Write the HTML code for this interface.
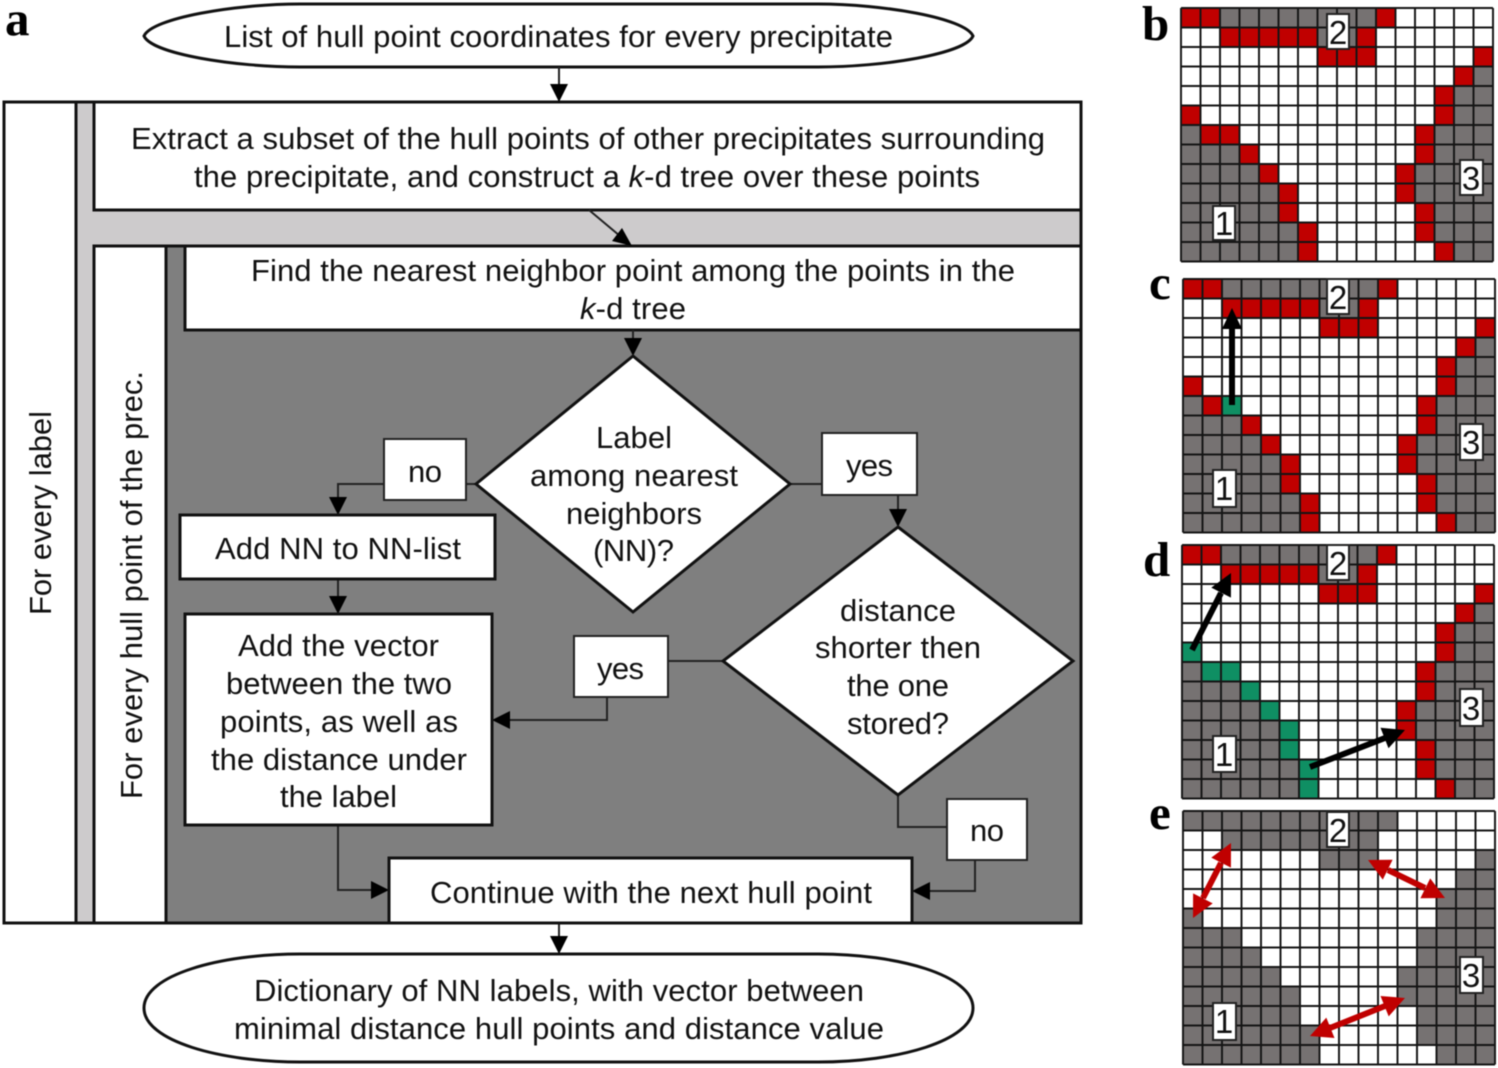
<!DOCTYPE html>
<html><head><meta charset="utf-8"><style>
html,body{margin:0;padding:0;background:#fff}
svg{display:block;filter:blur(0.4px)}
.t{font-family:"Liberation Sans",Arial,sans-serif;font-size:31px;fill:#111;text-anchor:start}
.l{font-family:"Liberation Serif",serif;font-weight:bold;font-size:49px;fill:#000}
.n{font-family:"Liberation Sans",Arial,sans-serif;font-size:33px;fill:#111;text-anchor:middle}
.b{fill:#fff;stroke:#111;stroke-width:3}
.s{fill:#fff;stroke:#222;stroke-width:2}
.c{fill:none;stroke:#222;stroke-width:2}
.lb{fill:#fff;stroke:#222;stroke-width:2}
</style></head><body>
<svg width="1498" height="1068" viewBox="0 0 1498 1068" xmlns="http://www.w3.org/2000/svg">
<defs>
<path id="gray" d="M2 0h8v1h-8zM7 1h2v1h-2zM15 3h1v1h-1zM14 4h2v2h-2zM0 6h1v1h-1zM13 6h3v2h-3zM0 7h3v1h-3zM0 8h4v1h-4zM12 8h4v2h-4zM0 9h5v2h-5zM13 10h3v2h-3zM0 11h6v2h-6zM14 12h2v1h-2z"/>
<path id="h1" d="M0 5h1v1h-1zM1 6h2v1h-2zM3 7h1v1h-1zM4 8h1v1h-1zM5 9h1v2h-1zM6 11h1v2h-1z"/>
<path id="h2" d="M0 0h2v1h-2zM10 0h1v1h-1zM2 1h5v1h-5zM9 1h1v1h-1zM7 2h3v1h-3zM15 2h1v1h-1zM14 3h1v1h-1zM13 4h1v2h-1zM12 6h1v2h-1zM11 8h1v2h-1zM12 10h1v2h-1zM13 12h1v1h-1z"/>
<path id="gl" fill="none" stroke="#151515" stroke-width=".1" d="M0 0V13M1 0V13M2 0V13M3 0V13M4 0V13M5 0V13M6 0V13M7 0V13M8 0V13M9 0V13M10 0V13M11 0V13M12 0V13M13 0V13M14 0V13M15 0V13M16 0V13M0 0H16M0 1H16M0 2H16M0 3H16M0 4H16M0 5H16M0 6H16M0 7H16M0 8H16M0 9H16M0 10H16M0 11H16M0 12H16M0 13H16"/>
</defs>

<!-- frame -->
<rect x="4" y="102" width="1077" height="821" fill="#cdcbcc" stroke="#111" stroke-width="3"/>
<rect x="4" y="102" width="72" height="821" class="b"/>
<rect x="94" y="102" width="987" height="108" class="b"/>
<rect x="94" y="246" width="987" height="677" fill="#7f7f7f" stroke="#111" stroke-width="3"/>
<rect x="94" y="246" width="72" height="677" class="b"/>
<rect x="185" y="246" width="896" height="84" class="b"/>

<!-- terminators -->
<path class="b" d="M144 36C152 18 235 4 300 4H818C883 4 965 18 973 36C965 54 883 67 818 67H300C235 67 152 54 144 36Z"/>
<path class="b" d="M144 1008C144 975 220 954 300 954H818C898 954 973 975 973 1008C973 1041 898 1062 818 1062H300C220 1062 144 1041 144 1008Z"/>

<!-- connectors -->
<path class="c" d="M559 67V90M589 210L620 236M633 330V345M476 484H466M384 484H338V500M338 579V600M790 484H822M898 495V512M723 661H668M607 697V720H510M898 795V827H947M975 860V891H930M338 825V890H372M559 923V940"/>
<g fill="#000">
<path d="M550 84H568L559 102Z"/>
<path d="M612 241L622 228L632 246Z"/>
<path d="M624 338H642L633 356Z"/>
<path d="M329 497H347L338 515Z"/>
<path d="M329 596H347L338 614Z"/>
<path d="M889 509H907L898 527Z"/>
<path d="M510 711V729L492 720Z"/>
<path d="M930 882V900L912 891Z"/>
<path d="M371 881V899L389 890Z"/>
<path d="M550 936H568L559 954Z"/>
</g>

<!-- boxes -->
<path class="b" d="M633 356L790 484L633 612L476 484Z"/>
<path class="b" d="M898 527L1073 661L898 795L723 661Z"/>
<rect x="180" y="515" width="315" height="64" class="b"/>
<rect x="185" y="614" width="307" height="211" class="b"/>
<rect x="389" y="858" width="523" height="65" class="b"/>
<rect x="384" y="439" width="82" height="61" class="s"/>
<rect x="822" y="433" width="95" height="62" class="s"/>
<rect x="574" y="636" width="94" height="61" class="s"/>
<rect x="947" y="799" width="80" height="61" class="s"/>

<!-- text -->
<text class="t" x="224" y="47" textLength="669">List of hull point coordinates for every precipitate</text>
<text class="t" x="131" y="149" textLength="914">Extract a subset of the hull points of other precipitates surrounding</text>
<text class="t" x="194" y="187" textLength="786">the precipitate, and construct a <tspan font-style="italic">k</tspan>-d tree over these points</text>
<text class="t" x="251" y="281" textLength="764">Find the nearest neighbor point among the points in the</text>
<text class="t" x="580" y="319" textLength="106"><tspan font-style="italic">k</tspan>-d tree</text>
<text class="t" x="596" y="448" textLength="76">Label</text>
<text class="t" x="530" y="486" textLength="208">among nearest</text>
<text class="t" x="566" y="524" textLength="136">neighbors</text>
<text class="t" x="593" y="561" textLength="81">(NN)?</text>
<text class="t" x="408" y="482" textLength="34">no</text>
<text class="t" x="846" y="476" textLength="47">yes</text>
<text class="t" x="215" y="559" textLength="246">Add NN to NN-list</text>
<text class="t" x="238" y="656" textLength="201">Add the vector</text>
<text class="t" x="226" y="694" textLength="226">between the two</text>
<text class="t" x="220" y="732" textLength="238">points, as well as</text>
<text class="t" x="211" y="770" textLength="256">the distance under</text>
<text class="t" x="280" y="807" textLength="117">the label</text>
<text class="t" x="840" y="621" textLength="116">distance</text>
<text class="t" x="815" y="658" textLength="166">shorter then</text>
<text class="t" x="847" y="696" textLength="102">the one</text>
<text class="t" x="847" y="734" textLength="102">stored?</text>
<text class="t" x="597" y="679" textLength="47">yes</text>
<text class="t" x="970" y="841" textLength="34">no</text>
<text class="t" x="430" y="903" textLength="442">Continue with the next hull point</text>
<text class="t" x="254" y="1001" textLength="610">Dictionary of NN labels, with vector between</text>
<text class="t" x="234" y="1039" textLength="650">minimal distance hull points and distance value</text>
<text class="t" transform="translate(51 615) rotate(-90)" textLength="204">For every label</text>
<text class="t" transform="translate(142 799) rotate(-90)" textLength="428">For every hull point of the prec.</text>

<!-- panel letters -->
<text class="l" x="5" y="35">a</text>
<text class="l" x="1142" y="40">b</text>
<text class="l" x="1149" y="299">c</text>
<text class="l" x="1143" y="576">d</text>
<text class="l" x="1149" y="829">e</text>

<!-- panel b -->
<g transform="translate(1181 8) scale(19.5 19.5)">
<rect width="16" height="13" fill="#fff"/>
<use href="#gray" fill="#767272"/><use href="#h1" fill="#c00000"/><use href="#h2" fill="#c00000"/><use href="#gl"/>
</g>
<rect x="1327" y="14" width="22" height="35" class="lb"/><text class="n" x="1338" y="44">2</text>
<rect x="1460" y="160" width="23" height="35" class="lb"/><text class="n" x="1471" y="190">3</text>
<rect x="1213" y="206" width="22" height="34" class="lb"/><text class="n" x="1224" y="235">1</text>

<!-- panel c -->
<g transform="translate(1183 279) scale(19.5 19.5)">
<rect width="16" height="13" fill="#fff"/>
<use href="#gray" fill="#767272"/><use href="#h1" fill="#c00000"/><use href="#h2" fill="#c00000"/>
<rect x="2" y="6" width="1" height="1" fill="#0f8f63"/><use href="#gl"/>
</g>
<rect x="1327" y="279" width="22" height="35" class="lb"/><text class="n" x="1338" y="309">2</text>
<rect x="1460" y="424" width="23" height="36" class="lb"/><text class="n" x="1471" y="454">3</text>
<rect x="1213" y="470" width="23" height="37" class="lb"/><text class="n" x="1224" y="500">1</text>
<path d="M1232 405V328" stroke="#000" stroke-width="6" fill="none"/>
<path d="M1232 308L1242 329H1222Z" fill="#000"/>

<!-- panel d -->
<g transform="translate(1182 545) scale(19.5 19.5)">
<rect width="16" height="13" fill="#fff"/>
<use href="#gray" fill="#767272"/><use href="#h1" fill="#0f8f63"/><use href="#h2" fill="#c00000"/><use href="#gl"/>
</g>
<rect x="1327" y="545" width="22" height="35" class="lb"/><text class="n" x="1338" y="575">2</text>
<rect x="1460" y="689" width="23" height="37" class="lb"/><text class="n" x="1471" y="720">3</text>
<rect x="1213" y="736" width="23" height="36" class="lb"/><text class="n" x="1224" y="766">1</text>
<path d="M1192 650L1221 593M1310 767L1385 738" stroke="#000" stroke-width="6" fill="none"/>
<path d="M1231 573L1230.9 597.6L1211.3 587.6Z M1405 730L1388.5 748.2L1380.5 727.7Z" fill="#000"/>

<!-- panel e -->
<g transform="translate(1183 811) scale(19.5 19.5)">
<rect width="16" height="13" fill="#fff"/>
<use href="#gray" fill="#767272"/><use href="#h1" fill="#767272"/><use href="#h2" fill="#767272"/><use href="#gl"/>
</g>
<rect x="1327" y="812" width="22" height="35" class="lb"/><text class="n" x="1338" y="842">2</text>
<rect x="1460" y="957" width="23" height="36" class="lb"/><text class="n" x="1471" y="987">3</text>
<rect x="1213" y="1003" width="23" height="37" class="lb"/><text class="n" x="1224" y="1033">1</text>
<path d="M1203 898L1221 863M1388 870L1425 888M1330 1028L1385 1006" stroke="#c00000" stroke-width="6" fill="none"/>
<path fill="#c00000" d="M1231 843L1230.9 867.6L1211.3 857.6ZM1193 918L1212.7 903.4L1193.1 893.4ZM1445 898L1420.4 898.2L1430.2 878.4ZM1368 860L1382.8 879.6L1392.6 859.8ZM1405 998L1388.7 1016.4L1380.5 996ZM1310 1036L1334.5 1038L1326.3 1017.6Z"/>
</svg>
</body></html>
